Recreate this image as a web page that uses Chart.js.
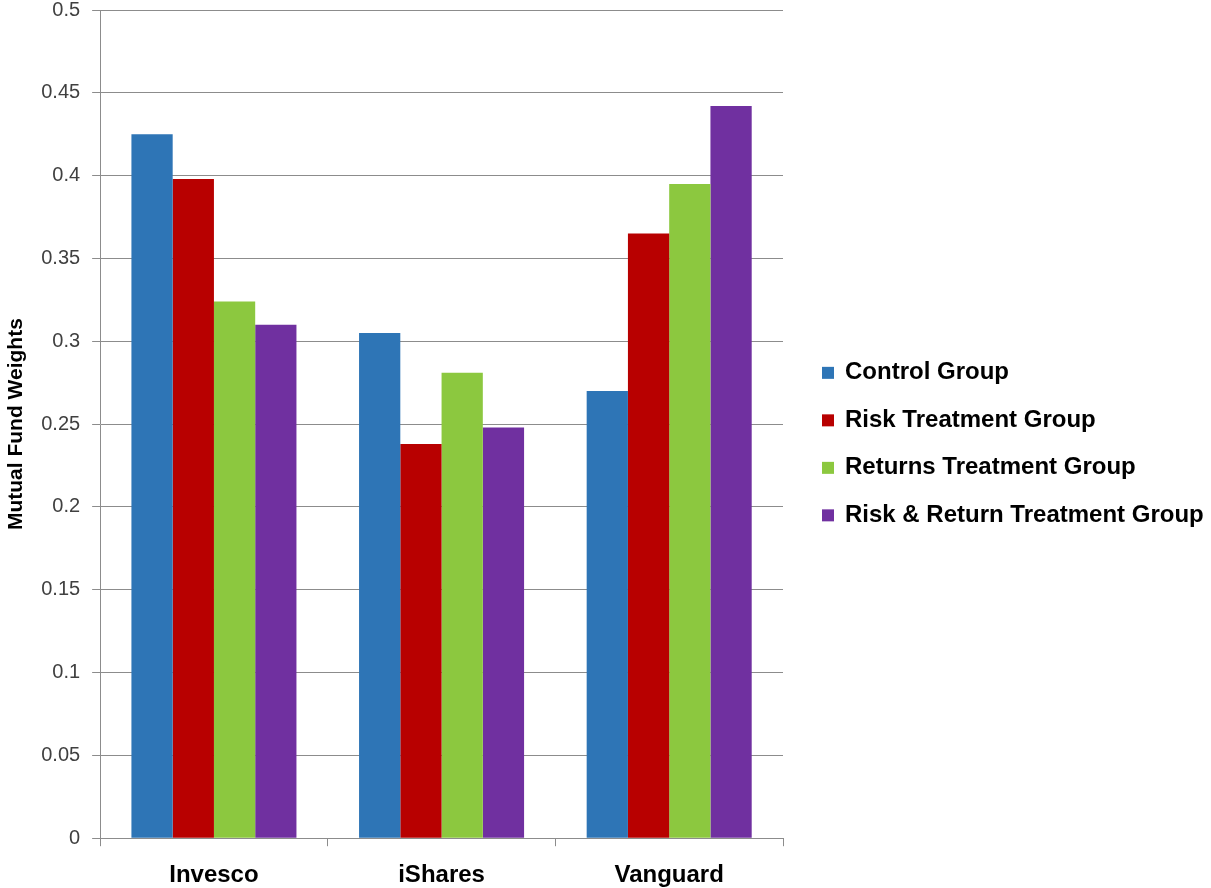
<!DOCTYPE html>
<html>
<head>
<meta charset="utf-8">
<script src="https://cdn.jsdelivr.net/npm/chart.js@4"></script>
<style>
  body { margin: 0; background: #fff; }
  #wrap { width: 1211px; height: 888px; }
</style>
</head>
<body>
<div id="wrap"><canvas id="fund-chart"></canvas></div>
<script>
// Values
const categories = ['Invesco', 'iShares', 'Vanguard'];
const controlGroup = [0.425, 0.305, 0.270];
const riskGroup = [0.398, 0.238, 0.365];
const returnsGroup = [0.324, 0.281, 0.395];
const riskReturnGroup = [0.310, 0.248, 0.442];

const font = '"Liberation Sans", Arial, sans-serif';

const data = {
  labels: categories,
  datasets: [
    { label: 'Control Group', data: controlGroup, backgroundColor: '#2E75B6' },
    { label: 'Risk Treatment Group', data: riskGroup, backgroundColor: '#B80000' },
    { label: 'Returns Treatment Group', data: returnsGroup, backgroundColor: '#8CC83F' },
    { label: 'Risk & Return Treatment Group', data: riskReturnGroup, backgroundColor: '#7030A0' }
  ]
};

// the built-in legend can't get wide enough on the right, so draw it here
const sideLegend = {
  id: 'sideLegend',
  afterDraw(chart) {
    const c = chart.ctx;
    const area = chart.chartArea;
    const sets = chart.data.datasets;
    const gap = 47.5;
    const startY = (area.top + area.bottom) / 2 - gap * (sets.length - 1) / 2 + 20;
    c.save();
    c.font = 'bold 24px ' + font;
    c.textBaseline = 'middle';
    sets.forEach((ds, i) => {
      const y = startY + i * gap;
      const x = area.right + 39;
      c.fillStyle = ds.backgroundColor;
      c.fillRect(x, y - 6, 12, 12);
      c.fillStyle = '#000';
      c.fillText(ds.label, x + 23, y);
    });
    c.restore();
  }
};

const ctx = document.getElementById('fund-chart').getContext('2d');
const fundChart = new Chart(ctx, {
  type: 'bar',
  data: data,
  plugins: [sideLegend],
  options: {
    responsive: true,
    maintainAspectRatio: false,
    animation: false,
    layout: { padding: { top: 0, right: 428, bottom: -17, left: 4 } },
    datasets: {
      bar: { categoryPercentage: 0.725, barPercentage: 1.0 }
    },
    plugins: {
      tooltip: { enabled: false },
      legend: { display: false }
    },
    scales: {
      x: {
        grid: {
          offset: true,
          drawOnChartArea: false,
          drawTicks: true,
          tickLength: 8,
          color: '#8c8c8c'
        },
        border: { color: '#8c8c8c' },
        ticks: {
          color: '#000',
          padding: 15,
          font: { family: font, size: 24, weight: 'bold' }
        }
      },
      y: {
        min: 0,
        max: 0.5,
        // tick padding also gets added above/below the axis; only keep half a label
        afterFit: (scale) => {
          scale.paddingTop = 10;
          scale.paddingBottom = 10;
        },
        ticks: {
          stepSize: 0.05,
          color: '#404040',
          padding: 12,
          font: { family: font, size: 20, lineHeight: 1 },
          callback: (v) => String(Math.round(v * 100) / 100)
        },
        grid: { color: '#8c8c8c', tickLength: 8 },
        border: { color: '#8c8c8c' },
        title: {
          display: true,
          text: 'Mutual Fund Weights',
          color: '#000',
          padding: { top: 0, bottom: 0 },
          font: { family: font, size: 21, weight: 'bold' }
        }
      }
    }
  }
});
</script>
</body>
</html>
